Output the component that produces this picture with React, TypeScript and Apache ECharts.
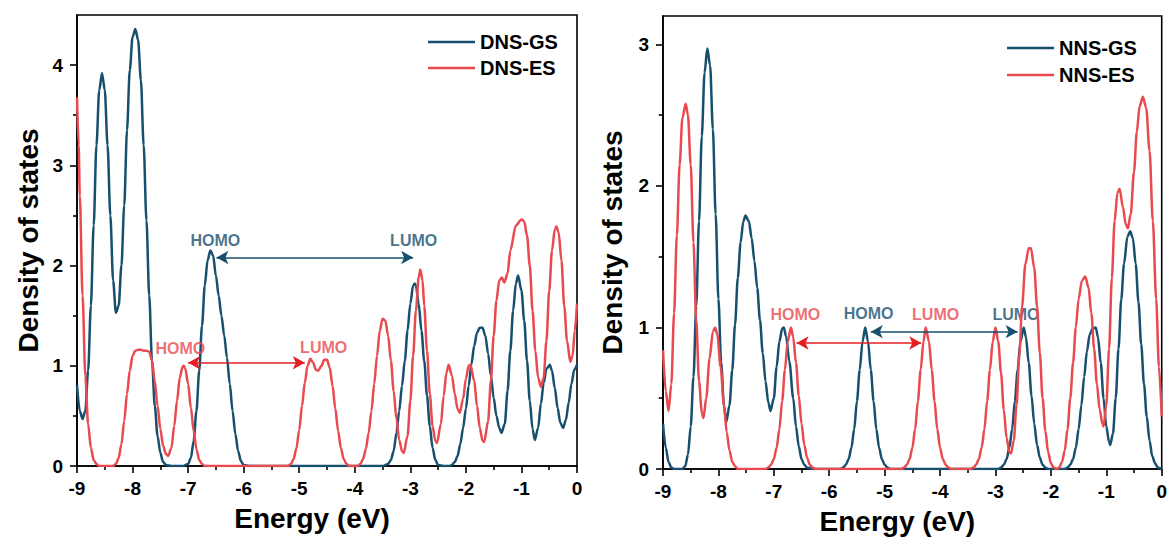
import React, { useEffect, useRef } from "react";
import * as echarts from "echarts";

// ---------- data ----------
const xTicks = [-9, -8, -7, -6, -5, -4, -3, -2, -1, 0];
const leftYTicks = [0, 1, 2, 3, 4];
const leftYMinor = [0.5, 1.5, 2.5, 3.5];
const rightYTicks = [0, 1, 2, 3];
const rightYMinor = [0.5, 1.5, 2.5];

const dnsGS: [number, number][] = [
  [-9.0, 0.81], [-8.95, 0.55], [-8.9, 0.47], [-8.85, 0.55], [-8.8, 0.95], [-8.75, 1.6], [-8.7, 2.4],
  [-8.65, 3.2], [-8.6, 3.75], [-8.55, 3.92], [-8.5, 3.75], [-8.45, 3.2], [-8.4, 2.5], [-8.35, 1.85],
  [-8.3, 1.53], [-8.25, 1.6], [-8.2, 2.0], [-8.15, 2.6], [-8.1, 3.35], [-8.05, 3.95], [-8.0, 4.28],
  [-7.95, 4.36], [-7.9, 4.25], [-7.85, 3.85], [-7.8, 3.2], [-7.75, 2.45], [-7.7, 1.7], [-7.65, 1.05],
  [-7.6, 0.6], [-7.55, 0.3], [-7.5, 0.13], [-7.45, 0.04], [-7.4, 0.01], [-7.3, 0], [-7.1, 0],
  [-7.0, 0.02], [-6.95, 0.08], [-6.9, 0.25], [-6.85, 0.55], [-6.8, 0.95], [-6.75, 1.4], [-6.7, 1.8],
  [-6.65, 2.05], [-6.6, 2.15], [-6.55, 2.1], [-6.5, 1.9], [-6.45, 1.7], [-6.4, 1.5], [-6.35, 1.3],
  [-6.3, 1.08], [-6.25, 0.82], [-6.2, 0.55], [-6.15, 0.32], [-6.1, 0.15], [-6.05, 0.05], [-6.0, 0.01],
  [-5.9, 0], [-3.5, 0], [-3.4, 0.02], [-3.35, 0.06], [-3.3, 0.15], [-3.25, 0.33], [-3.2, 0.55],
  [-3.15, 0.8], [-3.1, 1.05], [-3.05, 1.35], [-3.0, 1.62], [-2.95, 1.8], [-2.92, 1.82], [-2.9, 1.8],
  [-2.85, 1.62], [-2.8, 1.35], [-2.75, 1.05], [-2.7, 0.7], [-2.65, 0.4], [-2.6, 0.18], [-2.55, 0.06],
  [-2.5, 0.01], [-2.4, 0], [-2.3, 0], [-2.25, 0.01], [-2.2, 0.04], [-2.15, 0.1], [-2.1, 0.22],
  [-2.05, 0.38], [-2.0, 0.57], [-1.95, 0.8], [-1.9, 1.02], [-1.85, 1.2], [-1.8, 1.33], [-1.75, 1.38],
  [-1.7, 1.38], [-1.65, 1.3], [-1.6, 1.12], [-1.55, 0.9], [-1.5, 0.68], [-1.45, 0.5], [-1.4, 0.38],
  [-1.36, 0.33], [-1.3, 0.42], [-1.25, 0.75], [-1.2, 1.15], [-1.15, 1.55], [-1.1, 1.82], [-1.06, 1.9],
  [-1.0, 1.75], [-0.95, 1.45], [-0.9, 1.05], [-0.85, 0.65], [-0.8, 0.37], [-0.76, 0.26], [-0.7, 0.38],
  [-0.65, 0.62], [-0.6, 0.83], [-0.55, 0.97], [-0.49, 1.01], [-0.45, 0.95], [-0.4, 0.78], [-0.35, 0.58],
  [-0.3, 0.43], [-0.25, 0.38], [-0.2, 0.46], [-0.15, 0.63], [-0.1, 0.82], [-0.05, 0.96], [0.0, 1.01],
];

const dnsES: [number, number][] = [
  [-9.0, 3.68], [-8.97, 3.2], [-8.95, 2.7], [-8.9, 1.7], [-8.85, 0.9], [-8.8, 0.42], [-8.75, 0.18],
  [-8.7, 0.06], [-8.65, 0.02], [-8.6, 0], [-8.35, 0], [-8.3, 0.02], [-8.25, 0.08], [-8.2, 0.22],
  [-8.15, 0.45], [-8.1, 0.72], [-8.05, 0.95], [-8.0, 1.1], [-7.95, 1.15], [-7.9, 1.16], [-7.85, 1.16],
  [-7.8, 1.15], [-7.75, 1.15], [-7.7, 1.14], [-7.65, 1.05], [-7.6, 0.85], [-7.55, 0.6], [-7.5, 0.37],
  [-7.45, 0.2], [-7.4, 0.12], [-7.36, 0.1], [-7.3, 0.18], [-7.25, 0.4], [-7.2, 0.65], [-7.15, 0.88],
  [-7.1, 0.99], [-7.08, 1.0], [-7.05, 0.97], [-7.0, 0.82], [-6.95, 0.58], [-6.9, 0.35], [-6.85, 0.17],
  [-6.8, 0.06], [-6.75, 0.02], [-6.7, 0], [-5.2, 0], [-5.15, 0.02], [-5.1, 0.07], [-5.05, 0.18],
  [-5.0, 0.36], [-4.95, 0.6], [-4.9, 0.83], [-4.85, 1.0], [-4.8, 1.07], [-4.75, 1.03], [-4.7, 0.96],
  [-4.66, 0.95], [-4.6, 1.0], [-4.55, 1.06], [-4.5, 1.06], [-4.45, 0.98], [-4.4, 0.8], [-4.35, 0.57],
  [-4.3, 0.35], [-4.25, 0.18], [-4.2, 0.07], [-4.15, 0.02], [-4.1, 0], [-3.95, 0], [-3.9, 0.02],
  [-3.85, 0.07], [-3.8, 0.17], [-3.75, 0.33], [-3.7, 0.55], [-3.65, 0.82], [-3.6, 1.1], [-3.55, 1.35],
  [-3.5, 1.47], [-3.45, 1.45], [-3.4, 1.3], [-3.35, 1.05], [-3.3, 0.75], [-3.25, 0.47], [-3.2, 0.26],
  [-3.15, 0.15], [-3.12, 0.13], [-3.05, 0.3], [-3.0, 0.65], [-2.95, 1.1], [-2.9, 1.55], [-2.85, 1.88],
  [-2.82, 1.96], [-2.78, 1.85], [-2.75, 1.6], [-2.7, 1.15], [-2.65, 0.72], [-2.6, 0.4], [-2.55, 0.25],
  [-2.52, 0.23], [-2.45, 0.42], [-2.4, 0.7], [-2.35, 0.93], [-2.31, 1.01], [-2.25, 0.9], [-2.2, 0.72],
  [-2.15, 0.57], [-2.11, 0.53], [-2.05, 0.67], [-2.0, 0.87], [-1.95, 1.0], [-1.92, 1.01], [-1.85, 0.85],
  [-1.8, 0.6], [-1.75, 0.38], [-1.7, 0.25], [-1.67, 0.24], [-1.6, 0.45], [-1.55, 0.85], [-1.5, 1.3],
  [-1.45, 1.65], [-1.4, 1.85], [-1.35, 1.88], [-1.31, 1.83], [-1.25, 1.92], [-1.2, 2.15], [-1.1, 2.4],
  [-1.0, 2.46], [-0.95, 2.44], [-0.9, 2.3], [-0.85, 2.0], [-0.8, 1.55], [-0.75, 1.15], [-0.7, 0.88],
  [-0.65, 0.79], [-0.6, 0.88], [-0.55, 1.25], [-0.5, 1.75], [-0.45, 2.15], [-0.4, 2.36], [-0.37, 2.39],
  [-0.33, 2.33], [-0.28, 2.05], [-0.23, 1.6], [-0.18, 1.25], [-0.12, 1.04], [-0.08, 1.1], [-0.04, 1.35],
  [0.0, 1.62],
];

const nnsGS: [number, number][] = [
  [-9.0, 0.32], [-8.95, 0.15], [-8.9, 0.05], [-8.85, 0.01], [-8.8, 0], [-8.65, 0], [-8.6, 0.02],
  [-8.55, 0.1], [-8.5, 0.3], [-8.45, 0.65], [-8.4, 1.15], [-8.35, 1.75], [-8.3, 2.35], [-8.25, 2.8],
  [-8.2, 2.97], [-8.15, 2.85], [-8.1, 2.4], [-8.05, 1.8], [-8.0, 1.2], [-7.95, 0.75], [-7.9, 0.45],
  [-7.86, 0.33], [-7.8, 0.45], [-7.75, 0.7], [-7.7, 1.02], [-7.65, 1.35], [-7.6, 1.6], [-7.55, 1.75],
  [-7.51, 1.79], [-7.45, 1.75], [-7.4, 1.63], [-7.35, 1.47], [-7.3, 1.28], [-7.25, 1.05], [-7.2, 0.82],
  [-7.15, 0.62], [-7.1, 0.47], [-7.06, 0.41], [-7.0, 0.5], [-6.95, 0.72], [-6.9, 0.9], [-6.85, 0.99],
  [-6.82, 1.0], [-6.78, 0.94], [-6.72, 0.76], [-6.65, 0.5], [-6.6, 0.3], [-6.55, 0.16], [-6.5, 0.07],
  [-6.45, 0.03], [-6.4, 0.01], [-6.3, 0], [-5.8, 0], [-5.75, 0.01], [-5.7, 0.03], [-5.65, 0.07],
  [-5.6, 0.15], [-5.55, 0.28], [-5.5, 0.48], [-5.45, 0.7], [-5.4, 0.9], [-5.35, 1.0], [-5.3, 0.9],
  [-5.25, 0.7], [-5.2, 0.48], [-5.15, 0.28], [-5.1, 0.15], [-5.05, 0.07], [-5.0, 0.03], [-4.95, 0.01],
  [-4.9, 0], [-2.95, 0], [-2.9, 0.01], [-2.85, 0.03], [-2.8, 0.07], [-2.75, 0.15], [-2.7, 0.28],
  [-2.65, 0.48], [-2.6, 0.7], [-2.55, 0.9], [-2.49, 1.0], [-2.45, 0.93], [-2.4, 0.75], [-2.35, 0.52],
  [-2.3, 0.32], [-2.25, 0.17], [-2.2, 0.08], [-2.15, 0.03], [-2.1, 0.01], [-2.05, 0], [-1.75, 0],
  [-1.7, 0.01], [-1.65, 0.03], [-1.6, 0.07], [-1.55, 0.15], [-1.5, 0.28], [-1.45, 0.45], [-1.4, 0.65],
  [-1.35, 0.83], [-1.3, 0.95], [-1.25, 0.99], [-1.19, 1.0], [-1.15, 0.93], [-1.1, 0.75], [-1.05, 0.5],
  [-1.0, 0.3], [-0.95, 0.19], [-0.93, 0.17], [-0.88, 0.25], [-0.83, 0.5], [-0.78, 0.85], [-0.73, 1.2],
  [-0.68, 1.45], [-0.62, 1.64], [-0.57, 1.68], [-0.52, 1.63], [-0.47, 1.45], [-0.42, 1.18], [-0.37, 0.88],
  [-0.32, 0.6], [-0.27, 0.37], [-0.22, 0.2], [-0.17, 0.09], [-0.12, 0.04], [-0.07, 0.01], [0.0, 0],
];

const nnsES: [number, number][] = [
  [-9.0, 0.84], [-8.95, 0.55], [-8.9, 0.41], [-8.85, 0.6], [-8.8, 1.1], [-8.75, 1.65], [-8.7, 2.15],
  [-8.65, 2.48], [-8.59, 2.58], [-8.55, 2.5], [-8.5, 2.15], [-8.45, 1.6], [-8.4, 1.05], [-8.35, 0.62],
  [-8.3, 0.4], [-8.27, 0.36], [-8.22, 0.5], [-8.16, 0.78], [-8.1, 0.97], [-8.06, 1.0], [-8.02, 0.95],
  [-7.96, 0.72], [-7.9, 0.45], [-7.85, 0.26], [-7.8, 0.13], [-7.75, 0.05], [-7.7, 0.02], [-7.65, 0],
  [-7.15, 0], [-7.1, 0.01], [-7.05, 0.03], [-7.0, 0.07], [-6.95, 0.15], [-6.9, 0.28], [-6.85, 0.48],
  [-6.8, 0.7], [-6.75, 0.9], [-6.69, 1.0], [-6.65, 0.93], [-6.6, 0.75], [-6.55, 0.52], [-6.5, 0.32],
  [-6.45, 0.17], [-6.4, 0.08], [-6.35, 0.03], [-6.3, 0.01], [-6.25, 0], [-4.7, 0], [-4.65, 0.01],
  [-4.6, 0.03], [-4.55, 0.07], [-4.5, 0.15], [-4.45, 0.28], [-4.4, 0.48], [-4.35, 0.7], [-4.3, 0.9],
  [-4.26, 1.0], [-4.2, 0.9], [-4.15, 0.7], [-4.1, 0.48], [-4.05, 0.28], [-4.0, 0.15], [-3.95, 0.07],
  [-3.9, 0.03], [-3.85, 0.01], [-3.8, 0], [-3.45, 0], [-3.4, 0.01], [-3.35, 0.03], [-3.3, 0.07],
  [-3.25, 0.15], [-3.2, 0.28], [-3.15, 0.48], [-3.1, 0.7], [-3.05, 0.9], [-3.0, 1.0], [-2.95, 0.9],
  [-2.9, 0.68], [-2.85, 0.42], [-2.8, 0.22], [-2.75, 0.12], [-2.72, 0.11], [-2.67, 0.2], [-2.62, 0.45],
  [-2.57, 0.8], [-2.52, 1.15], [-2.46, 1.45], [-2.4, 1.56], [-2.36, 1.56], [-2.3, 1.42], [-2.25, 1.15],
  [-2.2, 0.82], [-2.15, 0.5], [-2.1, 0.27], [-2.05, 0.12], [-2.0, 0.04], [-1.95, 0.01], [-1.9, 0],
  [-1.85, 0.01], [-1.8, 0.05], [-1.75, 0.13], [-1.7, 0.28], [-1.65, 0.5], [-1.6, 0.75], [-1.55, 1.0],
  [-1.5, 1.2], [-1.44, 1.33], [-1.38, 1.36], [-1.32, 1.28], [-1.27, 1.1], [-1.22, 0.85], [-1.17, 0.6],
  [-1.12, 0.42], [-1.07, 0.32], [-1.05, 0.3], [-1.0, 0.45], [-0.95, 0.85], [-0.9, 1.35], [-0.85, 1.75],
  [-0.8, 1.95], [-0.76, 1.98], [-0.7, 1.85], [-0.65, 1.73], [-0.61, 1.7], [-0.56, 1.8], [-0.5, 2.1],
  [-0.45, 2.38], [-0.4, 2.56], [-0.34, 2.63], [-0.28, 2.55], [-0.22, 2.25], [-0.16, 1.75], [-0.1, 1.2],
  [-0.05, 0.72], [0.0, 0.37],
];

// annotations: [label, energy, dos, kind]
const leftLabels: [string, number, number, string][] = [
  ["HOMO", -6.51, 2.25, "gs"],
  ["LUMO", -2.94, 2.25, "gs"],
  ["HOMO", -7.14, 1.17, "es"],
  ["LUMO", -4.56, 1.18, "es"],
];
const rightLabels: [string, number, number, string][] = [
  ["HOMO", -6.61, 1.09, "es"],
  ["HOMO", -5.29, 1.1, "gs"],
  ["LUMO", -4.08, 1.09, "es"],
  ["LUMO", -2.63, 1.09, "gs"],
];
// arrows: [fromE, toE, dos]
const leftArrowGS: [number, number, number] = [-6.49, -2.95, 2.08];
const leftArrowES: [number, number, number] = [-7.0, -4.9, 1.03];
const rightArrowGS: [number, number, number] = [-5.25, -2.6, 0.97];
const rightArrowES: [number, number, number] = [-6.59, -4.34, 0.89];

const BLUE = "#17506f";
const RED = "#e84a4f";
const ARROW_RED = "#e41e24";
const FONT = '"Liberation Sans", Arial, sans-serif';

function arrowLine(a: [number, number, number], color: string) {
  return {
    silent: true,
    symbol: ["arrow", "arrow"],
    symbolSize: [10, 12],
    label: { show: false },
    lineStyle: { color, width: 1.6, type: "solid" },
    emphasis: { disabled: true },
    data: [[{ coord: [a[0], a[2]] }, { coord: [a[1], a[2]] }]],
  };
}

function labelSeries(labels: [string, number, number, string][], idx: number) {
  return {
    type: "scatter",
    xAxisIndex: idx,
    yAxisIndex: idx * 2,
    symbolSize: 0,
    silent: true,
    data: labels.map((l) => ({
      value: [l[1], l[2]],
      name: l[0],
      label: {
        show: true,
        position: "inside",
        formatter: l[0],
        color: l[3] === "gs" ? BLUE : RED,
        fontSize: 16,
        fontWeight: "bold",
        fontFamily: FONT,
      },
    })),
  };
}

function xAxis(gridIndex: number) {
  return {
    type: "value",
    gridIndex,
    min: xTicks[0],
    max: xTicks[xTicks.length - 1],
    interval: 1,
    name: "Energy (eV)",
    nameLocation: "middle",
    nameGap: 38,
    nameTextStyle: { fontSize: 28, fontWeight: "bold", color: "#000", fontFamily: FONT, padding: [0, 30, 0, 0] },
    axisLine: { show: true, onZero: false, lineStyle: { color: "#000", width: 1.6 } },
    axisTick: { show: true, inside: false, length: 7, lineStyle: { color: "#000", width: 1.6 } },
    minorTick: { show: true, splitNumber: 2, length: 4, lineStyle: { color: "#000", width: 1.6 } },
    axisLabel: { fontSize: 19, fontWeight: "bold", color: "#000", fontFamily: FONT, margin: 13 },
    splitLine: { show: false },
    minorSplitLine: { show: false },
  };
}

function yAxes(gridIndex: number, max: number, ticks: number[], minor: number[], gap: number, width: number) {
  return [
    {
      type: "value",
      gridIndex,
      position: "left",
      min: 0,
      max,
      name: "Density of states",
      nameLocation: "middle",
      nameGap: gap,
      nameTextStyle: { fontSize: 28, fontWeight: "bold", color: "#000", fontFamily: FONT },
      axisLine: { show: true, onZero: false, lineStyle: { color: "#000", width: 1.6 } },
      axisTick: { show: true, inside: false, length: 7, customValues: ticks, lineStyle: { color: "#000", width: 1.6 } },
      axisLabel: { fontSize: 19, fontWeight: "bold", color: "#000", fontFamily: FONT, margin: 14, customValues: ticks },
      splitLine: { show: false },
    },
    {
      // carries the short half-unit ticks; shifted from the right edge onto the left edge
      type: "value",
      gridIndex,
      position: "right",
      offset: -width,
      min: 0,
      max,
      axisLine: { show: false, onZero: false },
      axisTick: { show: true, inside: true, length: 4, customValues: minor, lineStyle: { color: "#000", width: 1.6 } },
      axisLabel: { show: false },
      splitLine: { show: false },
    },
  ];
}

function lineSeries(name: string, data: [number, number][], color: string, idx: number, arrow: any) {
  return {
    name,
    type: "line",
    xAxisIndex: idx,
    yAxisIndex: idx * 2,
    data,
    symbol: "none",
    smooth: 0.3,
    smoothMonotone: "x",
    lineStyle: { color, width: 2.5 },
    itemStyle: { color },
    markLine: arrow,
    z: color === RED ? 3 : 2,
  };
}

export default function App() {
  const ref = useRef<HTMLDivElement>(null);
  useEffect(() => {
    if (!ref.current) return;
    const chart = echarts.init(ref.current, undefined, { renderer: "svg" });
    const legendCommon = {
      orient: "vertical",
      itemWidth: 47,
      itemHeight: 14,
      icon: "path://M0,6 L47,6 L47,8.5 L0,8.5 Z",
      textStyle: { fontSize: 20, fontWeight: "bold", color: "#000", fontFamily: FONT },
    };
    chart.setOption({
      animation: false,
      backgroundColor: "#fff",
      grid: [
        { left: 77, top: 15, width: 500, height: 451, show: true, borderColor: "#000", borderWidth: 1.6, backgroundColor: "transparent" },
        { left: 663, top: 16, width: 499, height: 453, show: true, borderColor: "#000", borderWidth: 1.6, backgroundColor: "transparent" },
      ],
      legend: [
        { ...legendCommon, data: ["DNS-GS", "DNS-ES"], left: 423, top: 27, itemGap: 6 },
        { ...legendCommon, data: ["NNS-GS", "NNS-ES"], left: 1002, top: 33, itemGap: 7 },
      ],
      xAxis: [xAxis(0), xAxis(1)],
      yAxis: [
        ...yAxes(0, 4.5, leftYTicks, leftYMinor, 35, 500),
        ...yAxes(1, 3.2, rightYTicks, rightYMinor, 37, 499),
      ],
      series: [
        lineSeries("DNS-GS", dnsGS, BLUE, 0, arrowLine(leftArrowGS, BLUE)),
        lineSeries("DNS-ES", dnsES, RED, 0, arrowLine(leftArrowES, ARROW_RED)),
        lineSeries("NNS-GS", nnsGS, BLUE, 1, arrowLine(rightArrowGS, BLUE)),
        lineSeries("NNS-ES", nnsES, RED, 1, arrowLine(rightArrowES, ARROW_RED)),
        labelSeries(leftLabels, 0),
        labelSeries(rightLabels, 1),
      ],
    });
    return () => chart.dispose();
  }, []);
  return (
    <div
      ref={ref}
      style={{ position: "fixed", left: 0, top: 0, width: 1170, height: 540, background: "#fff" }}
    />
  );
}
